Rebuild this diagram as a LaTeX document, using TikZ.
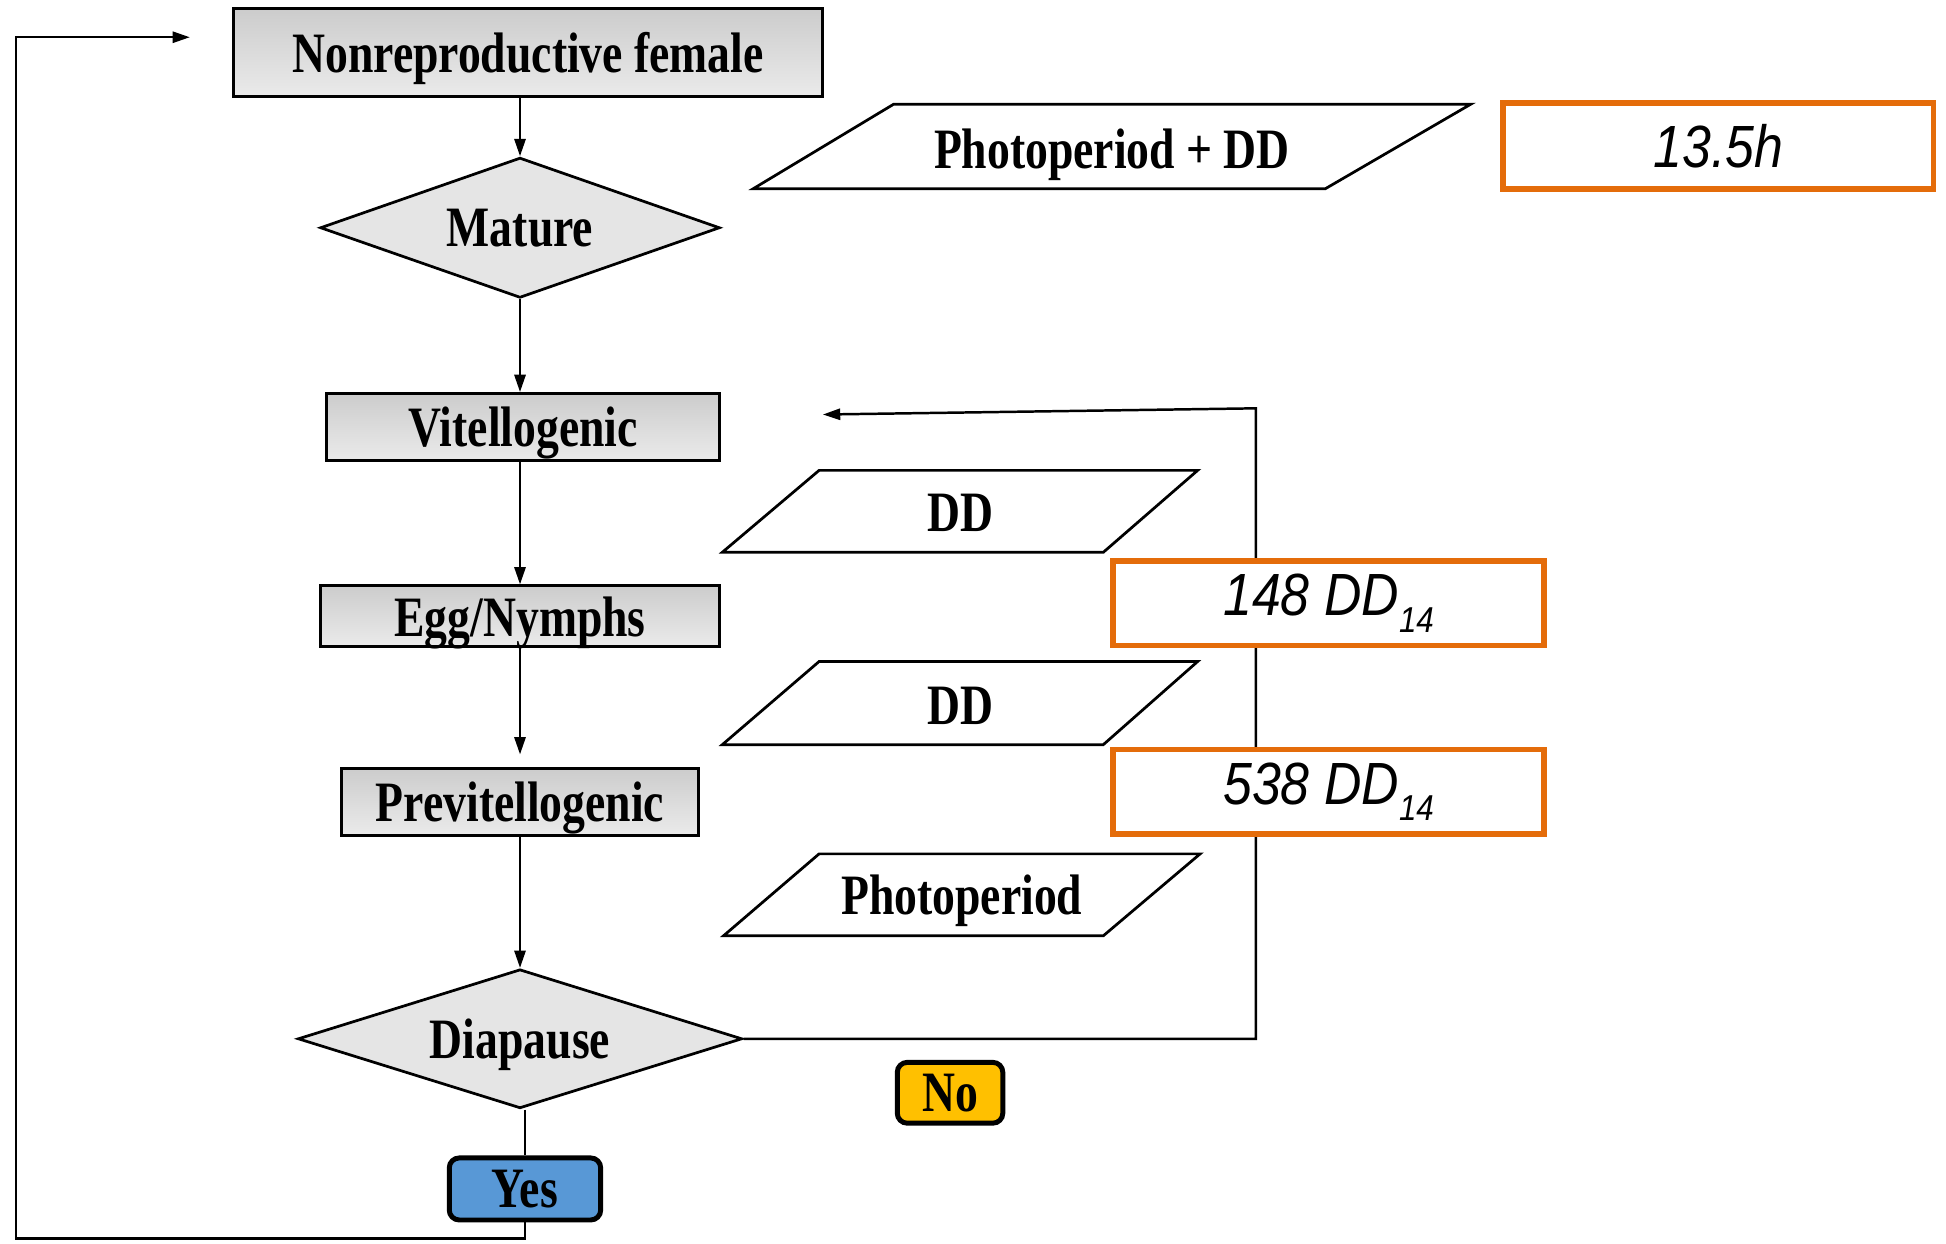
\documentclass[tikz,border=0pt]{standalone}
\usepackage{fontspec}
\usepackage{graphicx}
\setmainfont{Liberation Serif}
\newfontfamily\sansfam{Liberation Sans}
\usetikzlibrary{shapes.geometric,arrows.meta}
\definecolor{orng}{RGB}{228,108,10}
\definecolor{yesblue}{RGB}{88,152,214}
\definecolor{noyellow}{RGB}{255,192,0}
\newcommand{\cnd}[1]{\scalebox{0.8}[1]{#1}}
\newcommand{\cns}[1]{\scalebox{0.87}[1]{#1}}
\newcommand{\subfour}{\raisebox{-0.28em}{\fontsize{14.5}{15}\selectfont 14}}
\begin{document}
\begin{tikzpicture}[x=0.5pt,y=-0.5pt,
  lbl/.style={font=\bfseries\fontsize{23}{26}\selectfont, inner sep=0pt, text depth=0pt},
  stage/.style={lbl, draw, line width=1.1pt, rectangle, top color=black!20, bottom color=black!8},
  decision/.style={lbl, diamond, draw, line width=1.1pt, fill=black!10, aspect=2.8},
  para/.style={line width=1.1pt},
  obox/.style={draw=orng, line width=2.3pt, fill=white, inner sep=0pt, font=\sansfam\itshape\fontsize{24}{27}\selectfont},
  flag/.style={lbl, draw, line width=2pt, rounded corners=4pt},
  arr/.style={-{Triangle[length=7pt,width=4.5pt]}, line width=1pt},
  conn/.style={line width=1pt}]
\useasboundingbox (0,0) rectangle (1568,1002);
\fill[white] (0,0) rectangle (1568,1002);

% flowchart nodes
\node[stage, minimum width=237.5pt, minimum height=35.5pt] (nf) at (425.5,42.5) {\cnd{Nonreproductive female}};
\node[decision, minimum width=161pt, minimum height=56.5pt] (mat) at (419,183.5) {\cnd{Mature}};
\node[stage, minimum width=158.5pt, minimum height=27pt] (vit) at (421.5,344) {\cnd{Vitellogenic}};
\node[stage, minimum width=161pt, minimum height=24.5pt] (egg) at (419,496.5) {\cnd{Egg/Nymphs}};
\node[stage, minimum width=144pt, minimum height=27pt] (prev) at (419,646) {\cnd{Previtellogenic}};
\node[decision, minimum width=179pt, minimum height=56pt] (dia) at (419,837) {\cnd{Diapause}};
\node[flag, fill=yesblue, minimum width=61pt, minimum height=25pt] (yes) at (423,958) {\cnd{Yes}};
\node[flag, fill=noyellow, minimum width=42.5pt, minimum height=24.5pt] (no) at (765.5,880.5) {\cnd{No}};

% parallelograms (inputs)
\draw[para] (607,152) -- (1068,152) -- (1185,84) -- (720,84) -- cycle;
\node[lbl] (p1) at (896,120) {\cnd{Photoperiod + DD}};
\draw[para] (582,445) -- (889,445) -- (965,379) -- (660,379) -- cycle;
\node[lbl] (p2) at (774,413) {\cnd{DD}};
\draw[para] (582,600) -- (889,600) -- (965,533) -- (660,533) -- cycle;
\node[lbl] (p3) at (774,569) {\cnd{DD}};
\draw[para] (583,754) -- (889,754) -- (967,688) -- (660,688) -- cycle;
\node[lbl] (p4) at (775,721) {\cnd{Photoperiod}};

% connectors
\draw[arr] (mat.north |- nf.south) -- (mat.north);
\draw[arr] (mat.south) -- (mat.south |- vit.north);
\draw[arr] (egg.north |- vit.south) -- (egg.north);
\draw[arr, shorten >=5pt] (egg.south) -- (prev.north);
\draw[arr] (prev.south) -- (dia.north);

\coordinate (fbtop) at (1012,329);
\coordinate (fbend) at (663,334);
\draw[arr] (dia.east) -- (dia.east -| fbtop) -- (fbtop) -- (fbend);

\draw[conn] (dia.south -| yes.north) -- (yes.north);
\coordinate (lb) at (13,998);
\coordinate (lt) at (13,30);
\coordinate (lend) at (153,30);
\draw[arr] (yes.south) -- (yes.south |- lb) -- (lb) -- (lt) -- (lend);

% orange value boxes
\node[obox, minimum width=173.5pt, minimum height=34.5pt] (v1) at (1384.5,117.5) {\cns{13.5h}};
\node[obox, minimum width=173.5pt, minimum height=34pt] (v2) at (1070.5,486) {\cns{148 DD\subfour}};
\node[obox, minimum width=173.5pt, minimum height=34pt] (v3) at (1070.5,638) {\cns{538 DD\subfour}};
\end{tikzpicture}
\end{document}
